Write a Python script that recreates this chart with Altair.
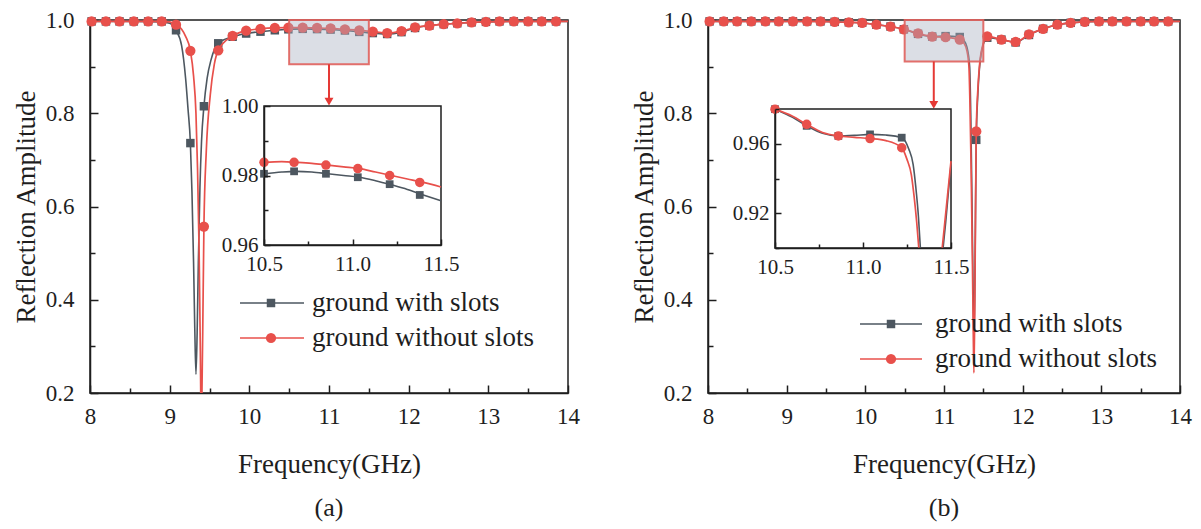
import altair as alt
import pandas as pd

FONT = "Liberation Serif"
INK = "#1e1e1e"
GRAY = "#4d5760"
RED = "#e8504b"
BOX_FILL = "#a9b0c2"
BOX_EDGE = "#e0605c"
ARROW = "#e53935"

SERIES = ["ground with slots", "ground without slots"]

X_TICKS = [8, 8.5, 9, 9.5, 10, 10.5, 11, 11.5, 12, 12.5, 13, 13.5, 14]
Y_TICKS = [0.2, 0.3, 0.4, 0.5, 0.6, 0.7, 0.8, 0.9, 1.0]
INSET_X_TICKS = [10.5, 10.75, 11.0, 11.25, 11.5]
A_INSET_Y_TICKS = [0.96, 0.97, 0.98, 0.99, 1.00]
B_INSET_Y_TICKS = [0.90, 0.92, 0.94, 0.96, 0.98]

# ---------- marker positions (GHz) ----------
A_MK_F = [8.02, 8.20, 8.37, 8.55, 8.73, 8.90, 9.08, 9.26, 9.43, 9.61, 9.79, 9.96,
          10.14, 10.32, 10.49, 10.67, 10.85, 11.02, 11.20, 11.38, 11.55, 11.73,
          11.91, 12.08, 12.26, 12.44, 12.61, 12.79, 12.97, 13.14, 13.32, 13.50,
          13.67, 13.85]
B_MK_F = [8.02, 8.20, 8.37, 8.55, 8.73, 8.90, 9.08, 9.26, 9.43, 9.61, 9.79, 9.96,
          10.14, 10.32, 10.49, 10.67, 10.85, 11.02, 11.20, 11.41, 11.55, 11.73,
          11.91, 12.08, 12.26, 12.44, 12.61, 12.79, 12.97, 13.14, 13.32, 13.50,
          13.67, 13.85]

# ---------- panel (a) ----------
A_GRAY_MK = [0.997, 0.997, 0.997, 0.997, 0.997, 0.997, 0.978, 0.736, 0.815, 0.950,
             0.964, 0.971, 0.975, 0.978, 0.980, 0.981, 0.9805, 0.9795, 0.9775,
             0.9745, 0.972, 0.970, 0.974, 0.983, 0.988, 0.991, 0.993, 0.995, 0.996,
             0.997, 0.997, 0.997, 0.997, 0.997]
A_RED_MK = [0.997, 0.997, 0.997, 0.997, 0.997, 0.997, 0.990, 0.934, 0.557, 0.935,
            0.966, 0.977, 0.981, 0.983, 0.9835, 0.9837, 0.983, 0.982, 0.980, 0.978,
            0.975, 0.972, 0.976, 0.984, 0.988, 0.991, 0.993, 0.995, 0.996, 0.997,
            0.997, 0.997, 0.997, 0.997]
A_GRAY_LINE_F = [8.0, 8.2, 8.55, 8.9, 9.0, 9.08, 9.15, 9.20, 9.23, 9.26, 9.28, 9.30,
                 9.315, 9.33, 9.345, 9.36, 9.38, 9.40, 9.43, 9.47, 9.52, 9.61, 9.79,
                 9.96, 10.14, 10.32, 10.49, 10.67, 10.85, 11.02, 11.20, 11.38, 11.55,
                 11.73, 11.91, 12.08, 12.26, 12.44, 12.61, 12.79, 12.97, 13.3, 14.0]
A_GRAY_LINE_V = [0.997, 0.997, 0.997, 0.996, 0.993, 0.978, 0.945, 0.875, 0.81, 0.736,
                 0.63, 0.48, 0.34, 0.24, 0.33, 0.48, 0.64, 0.74, 0.815, 0.875, 0.915,
                 0.95, 0.964, 0.971, 0.975, 0.978, 0.980, 0.981, 0.9805, 0.9795,
                 0.9775, 0.9745, 0.972, 0.970, 0.974, 0.983, 0.988, 0.991, 0.993,
                 0.995, 0.996, 0.997, 0.997]
A_RED_LINE_F = [8.0, 8.2, 8.55, 8.9, 9.0, 9.08, 9.15, 9.20, 9.26, 9.30, 9.33, 9.35,
                9.37, 9.385, 9.39, 9.397, 9.405, 9.415, 9.43, 9.46, 9.51, 9.56, 9.61,
                9.79, 9.96, 10.14, 10.32, 10.49, 10.67, 10.85, 11.02, 11.20, 11.38,
                11.55, 11.73, 11.91, 12.08, 12.26, 12.44, 12.61, 12.79, 12.97, 13.3,
                14.0]
A_RED_LINE_V = [0.997, 0.997, 0.997, 0.997, 0.996, 0.990, 0.980, 0.965, 0.934, 0.88,
                0.80, 0.68, 0.50, 0.29, 0.20, 0.12, 0.20, 0.33, 0.557, 0.72, 0.84,
                0.905, 0.935, 0.966, 0.977, 0.981, 0.983, 0.9835, 0.9837, 0.983,
                0.982, 0.980, 0.978, 0.975, 0.972, 0.976, 0.984, 0.988, 0.991, 0.993,
                0.995, 0.996, 0.997, 0.997]
# inset (a)
A_IN_MK_F = [10.5, 10.67, 10.85, 11.03, 11.21, 11.38]
A_IN_GRAY_MK = [0.9805, 0.9812, 0.9805, 0.9795, 0.9775, 0.9744]
A_IN_RED_MK = [0.9838, 0.9838, 0.9830, 0.9820, 0.9800, 0.9780]
A_IN_LINE_F = [10.5, 10.6, 10.68, 10.77, 10.86, 10.95, 11.04, 11.13, 11.22, 11.31,
               11.4, 11.5]
A_IN_GRAY_V = [0.9805, 0.9810, 0.9812, 0.9810, 0.9805, 0.9800, 0.9795, 0.9785, 0.9773,
               0.9760, 0.9744, 0.9727]
A_IN_RED_V = [0.9838, 0.9840, 0.9838, 0.9835, 0.9830, 0.9825, 0.9820, 0.9810, 0.9800,
              0.9790, 0.9780, 0.9767]

# ---------- panel (b) ----------
B_GRAY_MK = [0.997, 0.997, 0.997, 0.997, 0.997, 0.997, 0.997, 0.997, 0.997, 0.996,
             0.995, 0.994, 0.990, 0.986, 0.980, 0.9703, 0.9645, 0.9654, 0.9635,
             0.743, 0.962, 0.958, 0.952, 0.968, 0.981, 0.990, 0.994, 0.996, 0.997,
             0.997, 0.997, 0.997, 0.997, 0.997]
B_RED_MK = [0.997, 0.997, 0.997, 0.997, 0.997, 0.997, 0.997, 0.997, 0.997, 0.996,
            0.995, 0.994, 0.990, 0.986, 0.980, 0.9712, 0.9645, 0.963, 0.9577, 0.761,
            0.965, 0.958, 0.953, 0.969, 0.981, 0.990, 0.994, 0.996, 0.997, 0.997,
            0.997, 0.997, 0.997, 0.997]
B_GRAY_LINE_F = [8.0, 8.5, 9.0, 9.43, 9.61, 9.79, 9.96, 10.14, 10.32, 10.49, 10.67,
                 10.85, 11.02, 11.20, 11.25, 11.29, 11.326, 11.34, 11.355, 11.37, 11.38,
                 11.39, 11.40, 11.41, 11.43, 11.45, 11.50, 11.55, 11.73, 11.91, 12.08,
                 12.26, 12.44, 12.61, 12.79, 12.97, 13.5, 14.0]
B_GRAY_LINE_V = [0.997, 0.997, 0.997, 0.997, 0.996, 0.995, 0.994, 0.990, 0.986, 0.980,
                 0.9703, 0.9645, 0.9654, 0.9635, 0.957, 0.943, 0.90, 0.80, 0.62, 0.42,
                 0.33, 0.40, 0.58, 0.743, 0.84, 0.895, 0.948, 0.962, 0.958, 0.952,
                 0.968, 0.981, 0.990, 0.994, 0.996, 0.997, 0.997, 0.997]
B_RED_LINE_F = [8.0, 8.5, 9.0, 9.43, 9.61, 9.79, 9.96, 10.14, 10.32, 10.49, 10.67,
                10.85, 11.02, 11.20, 11.25, 11.29, 11.317, 11.33, 11.345, 11.36, 11.372,
                11.38, 11.39, 11.40, 11.41, 11.43, 11.45, 11.50, 11.55, 11.73, 11.91,
                12.08, 12.26, 12.44, 12.61, 12.79, 12.97, 13.5, 14.0]
B_RED_LINE_V = [0.997, 0.997, 0.997, 0.997, 0.996, 0.995, 0.994, 0.990, 0.986, 0.980,
                0.9712, 0.9645, 0.963, 0.9577, 0.951, 0.935, 0.90, 0.82, 0.68, 0.50,
                0.33, 0.243, 0.36, 0.57, 0.761, 0.85, 0.90, 0.95, 0.965, 0.958, 0.953,
                0.969, 0.981, 0.990, 0.994, 0.996, 0.997, 0.997, 0.997]
# inset (b): two segments per curve (the dip leaves the inset window)
B_IN_MK_F = [10.5, 10.68, 10.86, 11.04, 11.22]
B_IN_GRAY_MK = [0.9799, 0.9703, 0.9645, 0.9654, 0.9635]
B_IN_RED_MK = [0.9799, 0.9712, 0.9645, 0.9630, 0.9577]
B_IN_GRAY_F1 = [10.5, 10.6, 10.68, 10.77, 10.86, 10.95, 11.04, 11.13, 11.22, 11.26,
                11.285, 11.30, 11.315, 11.326]
B_IN_GRAY_V1 = [0.9799, 0.9752, 0.9703, 0.9660, 0.9645, 0.9648, 0.9654, 0.9650, 0.9635,
                0.9570, 0.9480, 0.9350, 0.9180, 0.9000]
B_IN_GRAY_F2 = [11.455, 11.47, 11.485, 11.5]
B_IN_GRAY_V2 = [0.9000, 0.9150, 0.9320, 0.9480]
B_IN_RED_F1 = [10.5, 10.6, 10.68, 10.77, 10.86, 10.95, 11.04, 11.13, 11.22, 11.25,
               11.275, 11.29, 11.305, 11.317]
B_IN_RED_V1 = [0.9799, 0.9758, 0.9712, 0.9665, 0.9645, 0.9637, 0.9630, 0.9618, 0.9577,
               0.9510, 0.9420, 0.9300, 0.9150, 0.9000]
B_IN_RED_F2 = [11.45, 11.465, 11.48, 11.5]
B_IN_RED_V2 = [0.9000, 0.9150, 0.9300, 0.9500]

PLOT_H = 373


def df(f, v):
    assert len(f) == len(v)
    return pd.DataFrame({"f": f, "v": v})


def seg_df(parts):
    frames = []
    for i, (f, v) in enumerate(parts):
        d = df(f, v)
        d["seg"] = i
        frames.append(d)
    return pd.concat(frames, ignore_index=True)


def build_panel(tag, width, mk_f, gray_mk, red_mk, gl, rl, box_v, arrow_f,
                arrow_v, head_v, inset, legend_pos):
    xs = alt.Scale(domain=[8, 14], nice=False, zero=False)
    ys = alt.Scale(domain=[0.2, 1.0], nice=False, zero=False)
    x_axis = alt.Axis(
        orient="bottom", values=X_TICKS, format=".0f",
        labelExpr="datum.value % 1 == 0 ? datum.label : ''",
        tickSize=alt.ExprRef("datum.value % 1 == 0 ? -8 : -5"),
        title="Frequency(GHz)", labelPadding=20, titlePadding=20,
        labelFlush=False, labelOverlap=False)
    y_axis = alt.Axis(
        orient="left", values=Y_TICKS, format=".1f",
        labelExpr="round(datum.value * 10) % 2 == 0 ? datum.label : ''",
        tickSize=alt.ExprRef("round(datum.value * 10) % 2 == 0 ? -8 : -5"),
        title="Reflection Amplitude", labelPadding=24, titlePadding=5,
        labelFlush=False, labelOverlap=False)
    X = alt.X("f:Q", scale=xs, axis=x_axis)
    Y = alt.Y("v:Q", scale=ys, axis=y_axis)

    g_line = alt.Chart(df(*gl)).mark_line(
        color=GRAY, strokeWidth=1.6, interpolate="monotone", clip=True
    ).encode(x=X, y=Y)
    g_pts = alt.Chart(df(mk_f, gray_mk)).mark_point(
        shape="square", filled=True, size=72, color=GRAY, opacity=1
    ).encode(x=X, y=Y)
    r_line = alt.Chart(df(*rl)).mark_line(
        color=RED, strokeWidth=1.7, interpolate="monotone", clip=True
    ).encode(x=X, y=Y)
    r_pts = alt.Chart(df(mk_f, red_mk)).mark_point(
        shape="circle", filled=True, size=105, color=RED, opacity=1
    ).encode(x=X, y=Y)
    box = alt.Chart(pd.DataFrame({"f": [10.5], "f2": [11.5],
                                  "v": [box_v], "v2": [1.0]})).mark_rect(
        fill=BOX_FILL, fillOpacity=0.42, stroke=BOX_EDGE, strokeWidth=2,
        strokeOpacity=0.9
    ).encode(x=X, x2="f2:Q", y=Y, y2="v2:Q")
    arrow = alt.Chart(pd.DataFrame({"f": [arrow_f], "v": [arrow_v[0]],
                                    "v2": [arrow_v[1]]})).mark_rule(
        color=ARROW, strokeWidth=2
    ).encode(x=X, y=Y, y2="v2:Q")
    head = alt.Chart(pd.DataFrame({"f": [arrow_f], "v": [head_v]})).mark_point(
        shape="triangle-down", filled=True, size=80, color=ARROW, opacity=1
    ).encode(x=X, y=Y)

    # legend (drawn by hand: line with a marker in its middle, then the label)
    lx0, lx1, lxm, lxt, lys = legend_pos
    legend = []
    for name, color, shape, size, ly in zip(SERIES, [GRAY, RED],
                                            ["square", "circle"], [72, 105], lys):
        ldf = pd.DataFrame({"label": [name]})
        legend.append(alt.Chart(ldf).mark_rule(color=color, strokeWidth=1.6).encode(
            x=alt.value(lx0), x2=alt.value(lx1), y=alt.value(ly)))
        legend.append(alt.Chart(ldf).mark_point(
            shape=shape, filled=True, size=size, color=color, opacity=1).encode(
            x=alt.value(lxm), y=alt.value(ly)))
        legend.append(alt.Chart(ldf).mark_text(
            align="left", baseline="middle", font=FONT, fontSize=27, color=INK).encode(
            x=alt.value(lxt), y=alt.value(ly), text="label:N"))

    main = alt.layer(g_line, g_pts, r_line, r_pts, box, arrow, head, *legend)

    # inset
    ixs = alt.Scale(domain=[10.5, 11.5], range=inset["xr"], nice=False, zero=False)
    iys = alt.Scale(domain=inset["yd"], range=inset["yr"], nice=False, zero=False)
    ix_axis = alt.Axis(
        orient="bottom", offset=inset["xoff"], values=INSET_X_TICKS, format=".1f",
        labelExpr="round(datum.value * 100) % 50 == 0 ? datum.label : ''",
        tickSize=alt.ExprRef("round(datum.value * 100) % 50 == 0 ? -6 : -4"),
        title=None, labelFontSize=21, labelPadding=14, labelFlush=False,
        labelOverlap=False, zindex=1)
    iy_axis = alt.Axis(
        orient="left", offset=inset["yoff"], values=inset["yticks"], format=".2f",
        labelExpr=inset["ylabel_expr"],
        tickSize=alt.ExprRef(inset["ytick_expr"]),
        title=None, labelFontSize=21, labelPadding=12, labelFlush=False,
        labelOverlap=False, zindex=1)
    iX = alt.X("f:Q", scale=ixs, axis=ix_axis)
    iY = alt.Y("v:Q", scale=iys, axis=iy_axis)

    frame = alt.Chart(pd.DataFrame({"f": [10.5], "f2": [11.5],
                                    "v": [inset["yd"][0]], "v2": [inset["yd"][1]]})
                      ).mark_rect(fillOpacity=0, stroke=INK, strokeWidth=1.5).encode(
        x=iX, x2="f2:Q", y=iY, y2="v2:Q")
    ig_line = alt.Chart(seg_df(inset["gray_lines"])).mark_line(
        color=GRAY, strokeWidth=1.6, interpolate="monotone").encode(
        x=iX, y=iY, detail="seg:N")
    ir_line = alt.Chart(seg_df(inset["red_lines"])).mark_line(
        color=RED, strokeWidth=1.7, interpolate="monotone").encode(
        x=iX, y=iY, detail="seg:N")
    ig_pts = alt.Chart(df(inset["mk_f"], inset["gray_mk"])).mark_point(
        shape="square", filled=True, size=60, color=GRAY, opacity=1).encode(x=iX, y=iY)
    ir_pts = alt.Chart(df(inset["mk_f"], inset["red_mk"])).mark_point(
        shape="circle", filled=True, size=90, color=RED, opacity=1).encode(x=iX, y=iY)
    ins = alt.layer(frame, ig_line, ig_pts, ir_line, ir_pts)

    return alt.layer(
        main, ins,
        title=alt.TitleParams(tag, orient="bottom", font=FONT, fontSize=26,
                              fontWeight="normal", color=INK, offset=18),
    ).resolve_scale(x="independent", y="independent").properties(
        width=width, height=PLOT_H)


inset_a = dict(
    xr=[174, 351], yd=[0.96, 1.00], yr=[225, 86], xoff=-148, yoff=-174,
    yticks=A_INSET_Y_TICKS,
    ylabel_expr="round(datum.value * 100) % 2 == 0 ? datum.label : ''",
    ytick_expr="round(datum.value * 100) % 2 == 0 ? -6 : -4",
    gray_lines=[(A_IN_LINE_F, A_IN_GRAY_V)], red_lines=[(A_IN_LINE_F, A_IN_RED_V)],
    mk_f=A_IN_MK_F, gray_mk=A_IN_GRAY_MK, red_mk=A_IN_RED_MK)
inset_b = dict(
    xr=[67, 243], yd=[0.90, 0.98], yr=[228, 89], xoff=-145, yoff=-67,
    yticks=B_INSET_Y_TICKS,
    ylabel_expr="round(datum.value * 100) % 4 == 0 ? datum.label : ''",
    ytick_expr="round(datum.value * 100) % 4 == 0 ? -6 : -4",
    gray_lines=[(B_IN_GRAY_F1, B_IN_GRAY_V1), (B_IN_GRAY_F2, B_IN_GRAY_V2)],
    red_lines=[(B_IN_RED_F1, B_IN_RED_V1), (B_IN_RED_F2, B_IN_RED_V2)],
    mk_f=B_IN_MK_F, gray_mk=B_IN_GRAY_MK, red_mk=B_IN_RED_MK)

panel_a = build_panel("(a)", 478, A_MK_F, A_GRAY_MK, A_RED_MK,
                      (A_GRAY_LINE_F, A_GRAY_LINE_V), (A_RED_LINE_F, A_RED_LINE_V),
                      0.905, 11.0, (0.905, 0.83), 0.825, inset_a,
                      (150, 214, 181, 222, [283, 318]))
panel_b = build_panel("(b)", 472, B_MK_F, B_GRAY_MK, B_RED_MK,
                      (B_GRAY_LINE_F, B_GRAY_LINE_V), (B_RED_LINE_F, B_RED_LINE_V),
                      0.911, 10.87, (0.911, 0.822), 0.818, inset_b,
                      (152, 214, 183, 227, [304, 339]))

chart = alt.hconcat(panel_a, panel_b, spacing=140, bounds="flush").properties(
    padding={"left": 3, "top": 0, "right": 0, "bottom": 0}
).configure_view(stroke=INK, strokeWidth=1.5).configure_axis(
    grid=False, domainColor=INK, domainWidth=1.5, tickColor=INK, tickWidth=1.5,
    labelFont=FONT, labelFontSize=23, labelColor=INK, titleFont=FONT,
    titleFontSize=27, titleFontWeight="normal", titleColor=INK
)

chart.save("out.html", embed_options={"renderer": "svg", "actions": False})
